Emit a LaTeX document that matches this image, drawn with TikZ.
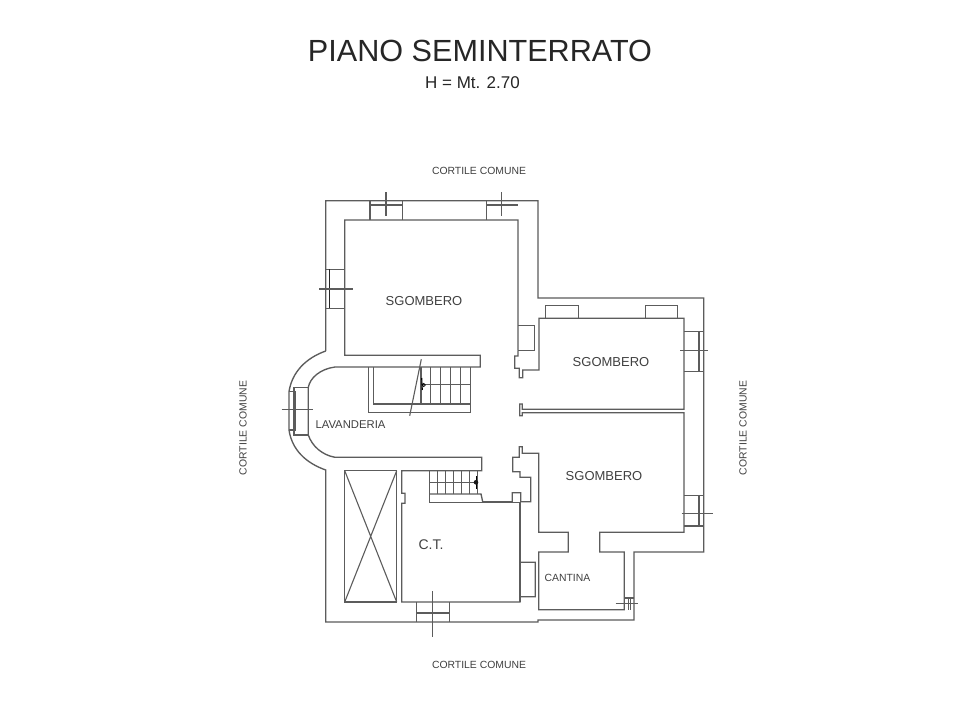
\documentclass[tikz,border=0pt]{standalone}
\usepackage{fontspec}
\setmainfont{Liberation Sans}
\definecolor{wallc}{gray}{0.36}
\definecolor{textc}{gray}{0.25}
\tikzset{
  wall/.style={draw=wallc,line width=1.35pt,line join=miter},
  thin wall/.style={draw=wallc,line width=1.1pt},
  thick wall/.style={draw=black!85,line width=1.6pt},
  glass/.style={draw=wallc,line width=2.4pt},
  lab/.style={text=textc,inner sep=0pt,font=\fontsize{13}{15}\selectfont},
  small lab/.style={text=textc,inner sep=0pt,font=\fontsize{10.4}{12}\selectfont},
}
\begin{document}
\begin{tikzpicture}[x=1pt,y=-1pt]
\useasboundingbox (0,0) rectangle (960,720);
\fill[white] (0,0) rectangle (960,720);
% titles
\node[inner sep=0pt,text=black!85,font=\fontsize{30.6}{33}\selectfont] (title) at (480,51) {PIANO SEMINTERRATO};
\node[inner sep=0pt,text=black!85,font=\fontsize{17}{20}\selectfont] (height) at (472.5,83) {H = Mt. 2.70};
\node[small lab] (ctop) at (479,171) {CORTILE COMUNE};
\node[small lab] (cbot) at (479,665) {CORTILE COMUNE};
\node[small lab,rotate=90] (cleft) at (243,428) {CORTILE COMUNE};
\node[small lab,rotate=90] (cright) at (743,428) {CORTILE COMUNE};
\node[lab] (r1) at (424,301) {SGOMBERO};
\node[lab] (r2) at (611,362) {SGOMBERO};
\node[lab] (r3) at (604,476) {SGOMBERO};
\node[small lab,font=\fontsize{11.3}{13}\selectfont] (lav) at (350.5,425) {LAVANDERIA};
\node[lab,font=\fontsize{14}{16}\selectfont] (ct) at (431,545) {C.T.};
\node[small lab,font=\fontsize{10.4}{12}\selectfont] (cant) at (567.5,578) {CANTINA};
% outer wall
\draw[wall] (325.7,351) -- (325.7,200.7) -- (538,200.7) -- (538,298) -- (703.7,298) -- (703.7,552) -- (634,552) -- (634,620) -- (538,620) -- (538,622) -- (325.7,622) -- (325.7,470)
  .. controls (306,463) and (292,450) .. (289,430) -- (289,391.7)
  .. controls (292,372) and (306,358) .. (325.7,351);
% big room and central corridor
\draw[wall] (518,350.7) -- (518,220) -- (344.7,220) -- (344.7,355.3) -- (480.3,355.3) -- (480.3,367) -- (335,367)
  .. controls (320,369) and (310,378) .. (308.3,387.3) -- (308.3,435)
  .. controls (312,446) and (322,455) .. (335,457.3) -- (481.7,457.3) -- (481.7,470.7) -- (401.7,470.7) -- (401.7,493.3) -- (405,493.3) -- (405,503.3) -- (401.7,503.3) -- (401.7,602) -- (520,602) -- (520,562.3) -- (535.3,562.3) -- (535.3,596.7) -- (520,596.7);
\draw[wall] (520,602) -- (520,502.3) -- (429.3,502.3) -- (429.3,470.7);
% door jamb, upper
\draw[wall] (518,350.7) -- (518,356) -- (514.7,356) -- (514.7,368.3) -- (519.3,368.3) -- (519.3,377.7) -- (522.7,377.7) -- (522.7,370) -- (539,370) -- (539,318.3) -- (684,318.3) -- (684,409.3) -- (522.3,409.3) -- (522.3,404) -- (519.7,404) -- (519.7,415.7) -- (522.3,415.7) -- (522.3,412.7) -- (684,412.7) -- (684,532.3) -- (599.7,532.3) -- (599.7,552) -- (624.3,552) -- (624.3,609.7) -- (538.7,609.7) -- (538.7,552) -- (568.3,552) -- (568.3,532.3) -- (538.7,532.3) -- (538.7,453.3) -- (522.3,453.3) -- (522.3,446.7) -- (519.3,446.7) -- (519.3,457.3) -- (512.7,457.3) -- (512.7,471.7) -- (520,471.7) -- (520,477.3) -- (530.7,477.3) -- (530.7,501.7) -- (520.7,501.7) -- (520.7,492.7) -- (512.3,492.7) -- (512.3,501.7) -- (482.7,501.7) -- (481,494) -- (429.3,494);
\draw[wall] (518,325.7) -- (534.7,325.7) -- (534.7,350.7) -- (518,350.7);
% top windows
\draw[wall] (370,200.7) -- (370,220) (402.3,200.7) -- (402.3,220) (486.3,200.7) -- (486.3,220);
\draw[glass] (370,205) -- (402.3,205) (486.3,205) -- (518,205);
\draw[thin wall] (386,192) -- (386,216) (501.7,192) -- (501.7,216);
% left window
\draw[wall] (325.7,269.3) -- (344.7,269.3) (325.7,308.3) -- (344.7,308.3);
\draw[thick wall] (329.5,269.3) -- (329.5,308.3);
\draw[thin wall] (319,289) -- (352.7,289);
% laundry window
\draw[wall] (289,391.7) -- (294,391.7) (294,387.3) -- (308.3,387.3) (294,387.3) -- (294,435) -- (308.3,435) (289,430) -- (294,430);
\draw[wall] (295.4,391) -- (295.4,431);
\draw[thin wall] (281.7,409.5) -- (313,409.5);
% right windows
\draw[wall] (545.7,318.3) -- (545.7,305.3) -- (578.3,305.3) -- (578.3,318.3) (645.3,318.3) -- (645.3,305.3) -- (677.7,305.3) -- (677.7,318.3);
\draw[wall] (684,331.7) -- (703.7,331.7) (684,371.3) -- (703.7,371.3) (684,495.3) -- (703.7,495.3) (684,526) -- (703.7,526);
\draw[glass] (699,331.7) -- (699,371.3) (699,495.3) -- (699,526);
\draw[thin wall] (680,350.7) -- (708,350.7) (681.7,513.3) -- (713,513.3);
% bottom window
\draw[wall] (416.3,602) -- (416.3,622) (449.3,602) -- (449.3,622);
\draw[glass] (416.3,612.7) -- (449.3,612.7);
\draw[thin wall] (432.7,591) -- (432.7,636.7);
% cantina window
\draw[wall] (624.3,598) -- (634,598) (628.4,598) -- (628.4,609.7) (630.6,598) -- (630.6,609.7);
\draw[thin wall] (615.7,603.7) -- (638.3,603.7);
% shaft
\draw[wall] (344.7,470.7) rectangle (396.7,602);
\draw[thin wall] (344.7,470.7) -- (396.7,602) (396.7,470.7) -- (344.7,602);
% upper stair
\draw[wall] (368.7,367) -- (368.7,412.3) -- (470.7,412.3) -- (470.7,367);
\draw[wall] (373.3,367) -- (373.3,404) -- (470.7,404);
\draw[thin wall] (421,367) -- (421,404) (430.7,367) -- (430.7,404) (440.7,367) -- (440.7,404) (450.7,367) -- (450.7,404) (460.7,367) -- (460.7,404);
\draw[thin wall] (421,384.3) -- (470.7,384.3);
\draw[thin wall] (421.3,359.3) -- (409.7,415.7);
\draw[black,line width=1.1pt] (421.7,378) -- (422.3,390);
\draw[black,line width=0.8pt] (423.8,385) circle (1.6);
% lower stair
\draw[wall] (437.3,470.7) -- (437.3,494) (445.3,470.7) -- (445.3,494) (453.3,470.7) -- (453.3,494) (461.3,470.7) -- (461.3,494) (469.3,470.7) -- (469.3,494) (477.3,470.7) -- (477.3,494);
\draw[wall] (429.3,482.3) -- (477.3,482.3);
\draw[black,line width=1pt] (476.3,476) -- (476.3,489);
\fill[black!90] (476,482.3) circle (2.3);
\end{tikzpicture}
\end{document}
